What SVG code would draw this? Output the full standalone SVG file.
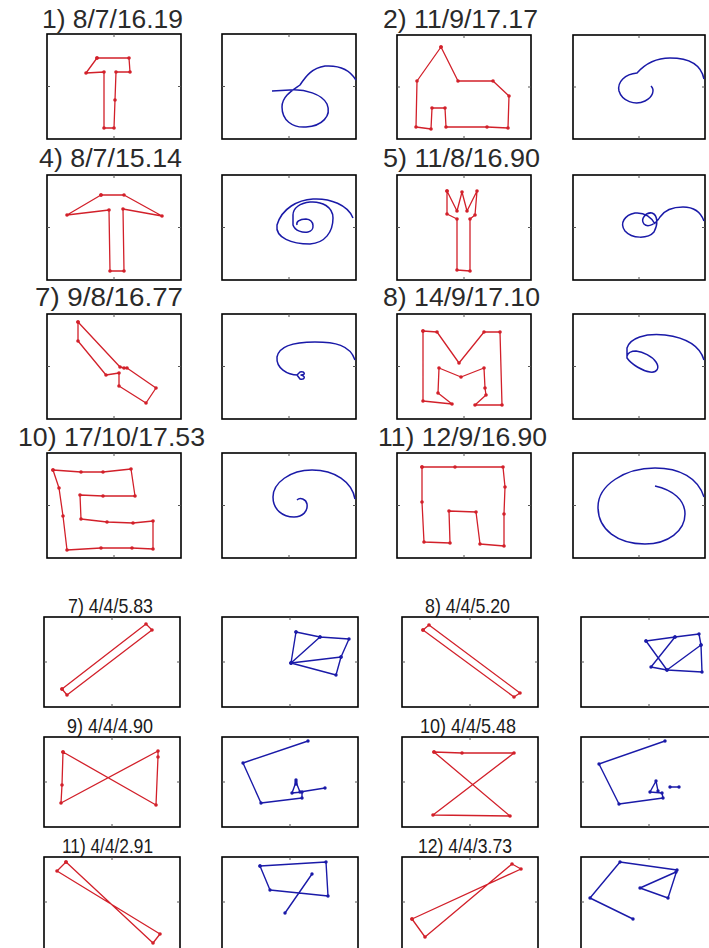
<svg xmlns="http://www.w3.org/2000/svg" width="709" height="948" viewBox="0 0 709 948">
<style>
.bg{fill:#fff}
.box{fill:none;stroke:#000;stroke-width:1.6}
.tk{fill:none;stroke:#555;stroke-width:1}
.red{fill:none;stroke:#d2202a;stroke-width:1.3;stroke-linejoin:round;marker-start:url(#rd);marker-mid:url(#rd);marker-end:url(#rd)}
.blue{fill:none;stroke:#1a1aa8;stroke-width:1.5;stroke-linejoin:round}
.bluep{fill:none;stroke:#1a1aa8;stroke-width:1.4;stroke-linejoin:round;marker-start:url(#bd);marker-mid:url(#bd);marker-end:url(#bd)}
.t1{font-family:"Liberation Sans",Arial,sans-serif;font-size:25px;fill:#2a2a2a}
.t2{font-family:"Liberation Sans",Arial,sans-serif;font-size:21px;fill:#1a1a1a}
</style>
<defs>
<marker id="rd" markerWidth="5" markerHeight="5" refX="2.5" refY="2.5" markerUnits="userSpaceOnUse"><circle cx="2.5" cy="2.5" r="1.8" fill="#d2202a"/></marker>
<marker id="bd" markerWidth="5" markerHeight="5" refX="2.5" refY="2.5" markerUnits="userSpaceOnUse"><circle cx="2.5" cy="2.5" r="1.7" fill="#1a1aa8"/></marker>
</defs>
<rect class="bg" x="0" y="0" width="709" height="948"/>

<!-- ===== Top section ===== -->
<g id="p1">
<text class="t1" x="42" y="28" textLength="141" lengthAdjust="spacingAndGlyphs">1) 8/7/16.19</text>
<rect class="box" x="47" y="34" width="134" height="105"/>
<path class="tk" d="M114,34v3M114,139v-3M47,86.5h3M181,86.5h-3"/>
<polygon class="red" points="97,58 129,58 130,72 116,72 115,100 114,128 104,128 104,72 86,73"/>
</g>
<g id="p1s">
<rect class="box" x="222" y="34" width="134" height="105"/>
<path class="tk" d="M289,34v3M289,139v-3M222,86.5h3M356,86.5h-3"/>
<path class="blue" d="M272,91 L290,90 C305,89 322,94 327,104 C332,116 322,126 306,127 C292,128 282,120 282,107 C282,96 293,90 300,85 C306,76 312,68 325,66 C340,65 350,70 356,80"/>
</g>
<g id="p2">
<text class="t1" x="383" y="28" textLength="155" lengthAdjust="spacingAndGlyphs">2) 11/9/17.17</text>
<rect class="box" x="397" y="35" width="134" height="104"/>
<path class="tk" d="M464,35v3M464,139v-3M397,87h3M531,87h-3"/>
<polygon class="red" points="441,47 458,81 493,81 509,96 508,128 487,127 446,127 445,108 432,108 431,129 416,127 417,81"/>
</g>
<g id="p2s">
<rect class="box" x="573" y="35" width="132" height="104"/>
<path class="tk" d="M639,35v3M639,139v-3M573,87h3M705,87h-3"/>
<path class="blue" d="M704,79 C701,64 688,58 670,58 C655,58 645,64 637,73 C625,74 617,82 619,91 C622,101 635,106 645,101 C653,97 655,90 651,86"/>
</g>

<g id="p4">
<text class="t1" x="39" y="167" textLength="143" lengthAdjust="spacingAndGlyphs">4) 8/7/15.14</text>
<rect class="box" x="47" y="175" width="134" height="105"/>
<path class="tk" d="M114,175v3M114,280v-3M47,227.5h3M181,227.5h-3"/>
<polygon class="red" points="101,195 124,195 162,216 123,209 124,271 110,271 109,210 67,215"/>
</g>
<g id="p4s">
<rect class="box" x="222" y="175" width="134" height="105"/>
<path class="tk" d="M289,175v3M289,280v-3M222,227.5h3M356,227.5h-3"/>
<path class="blue" d="M353,218 C348,205 330,198 313,199 C298,200 282,208 277,225 C275,238 292,244 310,244 C325,243 333,232 333,218 C333,207 322,201 310,202 C300,203 293,208 293,215 L293,225 C295,231 303,233 308,232 C315,231 315,220 306,219 C299,219 296,222 297,225"/>
</g>
<g id="p5">
<text class="t1" x="383" y="167" textLength="157" lengthAdjust="spacingAndGlyphs">5) 11/8/16.90</text>
<rect class="box" x="397" y="175" width="134" height="105"/>
<path class="tk" d="M464,175v3M464,280v-3M397,227.5h3M531,227.5h-3"/>
<polygon class="red" points="447,191 457,211 462,192 467,211 477,191 475,215 470,219 470,271 457,270 457,219 447,214"/>
</g>
<g id="p5s">
<rect class="box" x="573" y="175" width="132" height="105"/>
<path class="tk" d="M639,175v3M639,280v-3M573,227.5h3M705,227.5h-3"/>
<path class="blue" d="M704,221 C700,210 692,207 683,207 C672,207 664,211 660,217 C656,224 648,228 644,224 C640,219 646,212 652,213 C658,215 658,225 654,232 C648,239 632,239 625,231 C619,223 625,215 635,213 C645,212 652,218 655,224"/>
</g>

<g id="p7">
<text class="t1" x="35" y="306" textLength="148" lengthAdjust="spacingAndGlyphs">7) 9/8/16.77</text>
<rect class="box" x="47" y="314" width="134" height="105"/>
<path class="tk" d="M114,314v3M114,419v-3M47,366.5h3M181,366.5h-3"/>
<polygon class="red" points="78,322 120,367 124,368 127,368 156,388 146,403 119,386 119,373 106,375 78,341"/>
</g>
<g id="p7s">
<rect class="box" x="222" y="314" width="134" height="105"/>
<path class="tk" d="M289,314v3M289,419v-3M222,366.5h3M356,366.5h-3"/>
<path class="blue" d="M355,360 C350,345 335,342 315,342 C295,342 279,346 277,357 C276,368 287,375 298,375 M297,375 L300,372 C305,371 306,375 301,375 C306,376 305,380 300,379 Z"/>
</g>
<g id="p8">
<text class="t1" x="383" y="306" textLength="157" lengthAdjust="spacingAndGlyphs">8) 14/9/17.10</text>
<rect class="box" x="397" y="314" width="134" height="105"/>
<path class="tk" d="M464,314v3M464,419v-3M397,366.5h3M531,366.5h-3"/>
<polygon class="red" points="423,331 437,332 459,363 484,332 500,332 502,405 475,405 486,395 485,388 484,368 461,377 439,368 438,393 452,404 423,401"/>
</g>
<g id="p8s">
<rect class="box" x="573" y="314" width="132" height="105"/>
<path class="tk" d="M639,314v3M639,419v-3M573,366.5h3M705,366.5h-3"/>
<path class="blue" d="M704,360 C700,346 688,338 665,335 C645,333 630,338 627,348 L627,358 C632,365 643,371 650,372 C657,373 660,368 656,362 C652,356 643,352 636,351 C631,351 628,353 627,356"/>
</g>

<g id="p10">
<text class="t1" x="18" y="446" textLength="187" lengthAdjust="spacingAndGlyphs">10) 17/10/17.53</text>
<rect class="box" x="47" y="453" width="134" height="105"/>
<path class="tk" d="M114,453v3M114,558v-3M47,505.5h3M181,505.5h-3"/>
<polygon class="red" points="53,470 81,472 103,472 131,469 135,496 103,496 80,495 81,519 107,522 133,523 153,521 153,549 132,548 101,548 67,550 63,516 59,488"/>
</g>
<g id="p10s">
<rect class="box" x="222" y="453" width="134" height="105"/>
<path class="tk" d="M289,453v3M289,558v-3M222,505.5h3M356,505.5h-3"/>
<path class="blue" d="M355,499 C352,482 335,470 312,470 C290,470 273,483 273,497 C273,510 283,517 294,517 C303,517 308,511 307,504 C306,499 300,497 297,500"/>
</g>
<g id="p11">
<text class="t1" x="378" y="446" textLength="169" lengthAdjust="spacingAndGlyphs">11) 12/9/16.90</text>
<rect class="box" x="397" y="453" width="134" height="105"/>
<path class="tk" d="M464,453v3M464,558v-3M397,505.5h3M531,505.5h-3"/>
<polygon class="red" points="422,467 455,467 503,467 505,487 504,514 504,546 480,544 476,512 449,511 450,543 424,542 422,502"/>
</g>
<g id="p11s">
<rect class="box" x="573" y="453" width="132" height="105"/>
<path class="tk" d="M639,453v3M639,558v-3M573,505.5h3M705,505.5h-3"/>
<path class="blue" d="M704,497 C698,478 680,468 655,468 C625,468 598,485 598,507 C598,530 618,544 645,544 C668,544 685,531 685,514 C685,500 673,490 655,486"/>
</g>

<!-- ===== Bottom section ===== -->
<g id="q7">
<text class="t2" x="68" y="613" textLength="85" lengthAdjust="spacingAndGlyphs">7) 4/4/5.83</text>
<rect class="box" x="44" y="617" width="136" height="90"/>
<path class="tk" d="M112,617v3M112,707v-3M44,662h3M180,662h-3"/>
<polygon class="red" points="62,689 146,624 152,630 67,695"/>
</g>
<g id="q7s">
<rect class="box" x="222" y="617" width="136" height="90"/>
<path class="tk" d="M290,617v3M290,707v-3M222,662h3M358,662h-3"/>
<path class="bluep" d="M296,632 L320,637 L349,639 L341,657 L336,675 L291,663 Z M291,663 L320,637 M291,663 L341,657"/>
</g>
<g id="q8">
<text class="t2" x="425" y="613" textLength="85" lengthAdjust="spacingAndGlyphs">8) 4/4/5.20</text>
<rect class="box" x="402" y="617" width="136" height="90"/>
<path class="tk" d="M470,617v3M470,707v-3M402,662h3M538,662h-3"/>
<polygon class="red" points="423,630 429,625 520,693 514,697"/>
</g>
<g id="q8s">
<rect class="box" x="581" y="617" width="136" height="90"/>
<path class="tk" d="M649,617v3M649,707v-3M581,662h3"/>
<path class="bluep" d="M646,641 L675,637 L699,634 L701,645 L702,672 L667,670 L651,667 L675,637 M646,641 L667,670 L701,645"/>
</g>

<g id="q9">
<text class="t2" x="67" y="733" textLength="86" lengthAdjust="spacingAndGlyphs">9) 4/4/4.90</text>
<rect class="box" x="44" y="737" width="136" height="90"/>
<path class="tk" d="M112,737v3M112,827v-3M44,782h3M180,782h-3"/>
<polygon class="red" points="63,752 156,805 158,757 158,751 61,803 62,785"/>
</g>
<g id="q9s">
<rect class="box" x="222" y="737" width="136" height="90"/>
<path class="tk" d="M290,737v3M290,827v-3M222,782h3M358,782h-3"/>
<path class="bluep" d="M308,741 L243,763 L261,803 L302,798 L302,792 L292,793 L296,782 L300,792 L325,788 M296,780 L296,784"/>
</g>
<g id="q10">
<text class="t2" x="420" y="733" textLength="96" lengthAdjust="spacingAndGlyphs">10) 4/4/5.48</text>
<rect class="box" x="402" y="737" width="136" height="90"/>
<path class="tk" d="M470,737v3M470,827v-3M402,782h3M538,782h-3"/>
<polygon class="red" points="434,752 462,753 514,753 433,815 510,816"/>
</g>
<g id="q10s">
<rect class="box" x="581" y="737" width="136" height="90"/>
<path class="tk" d="M649,737v3M649,827v-3M581,782h3"/>
<path class="bluep" d="M665,741 L599,764 L619,804 L663,798 L662,793 L650,792 L656,781 L658,791 M670,787 L679,787"/>
</g>

<g id="q11">
<text class="t2" x="62" y="853" textLength="91" lengthAdjust="spacingAndGlyphs">11) 4/4/2.91</text>
<rect class="box" x="44" y="857" width="136" height="92"/>
<path class="tk" d="M112,857v3M44,902h3M180,902h-3"/>
<polygon class="red" points="66,862 153,943 160,934 57,871"/>
</g>
<g id="q11s">
<rect class="box" x="222" y="857" width="136" height="92"/>
<path class="tk" d="M290,857v3M222,902h3M358,902h-3"/>
<path class="bluep" d="M260,866 L326,862 L328,896 L270,890 Z M285,913 L312,874"/>
</g>
<g id="q12">
<text class="t2" x="418" y="853" textLength="94" lengthAdjust="spacingAndGlyphs">12) 4/4/3.73</text>
<rect class="box" x="402" y="857" width="136" height="92"/>
<path class="tk" d="M470,857v3M402,902h3M538,902h-3"/>
<polygon class="red" points="412,919 521,869 512,864 425,937"/>
</g>
<g id="q12s">
<rect class="box" x="581" y="857" width="136" height="92"/>
<path class="tk" d="M649,857v3M581,902h3"/>
<path class="bluep" d="M633,919 L590,898 L620,862 L677,870 L668,898 L640,888 L676,872"/>
</g>
</svg>
